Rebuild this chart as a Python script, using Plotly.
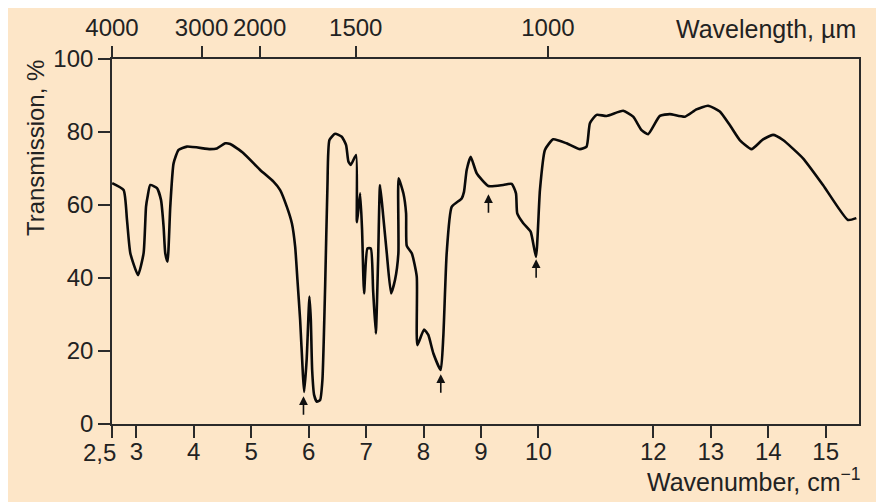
import plotly.graph_objects as go

# ---- data (wavelength axis in µm, transmission in %) ----
wl = [2.58, 2.779, 2.838, 2.896, 3.030, 3.127, 3.169, 3.197, 3.243, 3.360,
      3.430, 3.475, 3.504, 3.544, 3.591, 3.649, 3.736, 3.882, 4.287, 4.403,
      4.548, 4.635, 4.866, 5.157, 5.388, 5.504, 5.621, 5.708, 5.765, 5.805,
      5.852, 5.899, 5.922, 5.965, 6.014, 6.038, 6.061, 6.096, 6.143, 6.200,
      6.240, 6.287, 6.327, 6.362, 6.461, 6.577, 6.652, 6.692, 6.734, 6.826,
      6.838, 6.843, 6.896, 6.930, 6.965, 7.023, 7.082, 7.122, 7.169, 7.209,
      7.243, 7.296, 7.360, 7.435, 7.504, 7.562, 7.566, 7.649, 7.696, 7.708,
      7.795, 7.882, 7.892, 8.009, 8.083, 8.170, 8.299, 8.344, 8.403, 8.490,
      8.664, 8.704, 8.751, 8.821, 8.925, 9.127, 9.388, 9.534, 9.609, 9.631,
      9.736, 9.864, 9.957, 10.026, 10.113, 10.257, 10.490, 10.722, 10.838, 10.896,
      11.012, 11.186, 11.475, 11.649, 11.795, 11.910, 12.113, 12.287, 12.548, 12.751,
      12.953, 13.157, 13.330, 13.504, 13.708, 13.910, 14.083, 14.257, 14.605, 14.953,
      15.388, 15.534]
trans = [66.0, 64.1, 55.9, 46.8, 40.8, 46.8, 59.5, 62.3, 65.5, 64.6,
         61.4, 54.1, 46.8, 44.5, 59.5, 71.4, 75.1, 76.0, 75.3, 75.5,
         76.9, 76.7, 74.2, 69.6, 66.4, 64.1, 59.5, 55.0, 48.6, 39.5,
         28.5, 13.9, 8.8, 17.5, 34.9, 28.5, 14.8, 7.9, 6.1, 6.6,
         12.1, 37.6, 65.0, 77.8, 79.5, 78.7, 76.4, 71.9, 71.0, 73.7,
         55.9, 55.3, 63.2, 53.2, 35.8, 48.1, 48.1, 36.7, 24.8, 44.9,
         65.5, 57.3, 46.8, 35.8, 39.5, 46.8, 67.3, 63.2, 57.7, 48.8,
         46.8, 40.4, 21.6, 25.9, 24.4, 19.4, 14.8, 23.9, 46.8, 59.5,
         61.8, 63.6, 69.6, 73.2, 68.7, 65.2, 65.5, 65.8, 63.2, 57.7,
         55.0, 52.7, 45.8, 64.1, 75.1, 78.0, 76.9, 75.3, 76.0, 82.4,
         84.7, 84.4, 85.8, 84.2, 80.5, 79.4, 84.4, 84.9, 84.2, 86.2,
         87.2, 85.6, 81.9, 77.8, 75.3, 78.0, 79.2, 77.8, 72.8, 65.5,
         55.9, 56.4]

# marked bands (arrows)
arrow_wl = [5.91, 8.30, 9.13, 9.96]
arrow_t = [7.9, 13.9, 63.2, 45.4]

bottom_tick_vals = [2.577, 3, 4, 5, 6, 7, 8, 9, 10, 12, 13, 14, 15]
bottom_tick_text = ["2,5", "3", "4", "5", "6", "7", "8", "9", "10", "12", "13", "14", "15"]
top_tick_vals = [2.577, 4.136, 5.146, 6.82, 10.165]
top_tick_text = ["4000", "3000", "2000", "1500", "1000"]
y_tick_vals = [0, 20, 40, 60, 80, 100]

X_RANGE = [2.577, 15.58]
FONT = "Liberation Sans, Arial, sans-serif"
TXT = "#222222"
AX = "#2a2a2a"
BG = "#FDE6C8"
TICK_SIZE = 24
TITLE_SIZE = 24

# the first bottom label sits left of its tick in the reference: draw it separately
bottom_tick_disp = [""] + bottom_tick_text[1:]

fig = go.Figure()
fig.add_trace(go.Scatter(x=wl, y=trans, mode="lines",
                         line=dict(color="#0a0a0a", width=2.6, shape="spline", smoothing=0.5),
                         hoverinfo="skip", showlegend=False))
# invisible trace for the top axis
fig.add_trace(go.Scatter(x=X_RANGE, y=[0, 0], xaxis="x2", mode="lines",
                         line=dict(width=0), opacity=0, hoverinfo="skip", showlegend=False))

for ax_, ay_ in zip(arrow_wl, arrow_t):
    fig.add_annotation(x=ax_, y=ay_, ax=0, ay=21, xref="x", yref="y", text="",
                       showarrow=True, arrowhead=2, arrowsize=1.1, arrowwidth=1.6,
                       arrowcolor="#111111", standoff=1)

fig.update_layout(
    width=870, height=494,
    margin=dict(l=104, r=19, t=51, b=78, autoexpand=False),
    paper_bgcolor=BG, plot_bgcolor=BG,
    font=dict(family=FONT, size=TITLE_SIZE, color=TXT),
    xaxis=dict(range=X_RANGE, tickmode="array", tickvals=bottom_tick_vals, ticktext=bottom_tick_disp,
               ticks="outside", ticklen=12, tickwidth=1.5, tickcolor=AX, automargin=False, tickangle=0,
               ticklabelstandoff=-7,
               showline=True, linecolor=AX, linewidth=1.6, mirror=True,
               showgrid=False, zeroline=False, tickfont=dict(size=TICK_SIZE, color=TXT)),
    xaxis2=dict(range=X_RANGE, overlaying="x", side="top", tickmode="array",
                tickvals=top_tick_vals, ticktext=top_tick_text, automargin=False, tickangle=0,
                ticks="outside", ticklen=12, tickwidth=1.5, tickcolor=AX,
                showline=False, showgrid=False, zeroline=False, tickfont=dict(size=TICK_SIZE, color=TXT)),
    yaxis=dict(range=[0, 100], tickmode="array", tickvals=y_tick_vals, automargin=False,
               ticks="outside", ticklen=12, tickwidth=1.5, tickcolor=AX,
               showline=True, linecolor=AX, linewidth=1.6, mirror=True,
               showgrid=False, zeroline=False, tickfont=dict(size=TICK_SIZE, color=TXT)),
)

fig.add_annotation(text=bottom_tick_text[0], xref="x", yref="paper", x=bottom_tick_vals[0],
                   y=-0.077, xanchor="right", yanchor="middle", xshift=6, showarrow=False,
                   font=dict(size=TICK_SIZE, color=TXT))
fig.add_annotation(text="Transmission, %", xref="paper", yref="paper", x=-0.103, y=0.756,
                   xanchor="center", yanchor="middle", textangle=-90, showarrow=False,
                   font=dict(size=TITLE_SIZE, color=TXT))
fig.add_annotation(text="Wavelength, µm", xref="paper", yref="paper", x=0.9987, y=1.082,
                   xanchor="right", yanchor="middle", showarrow=False,
                   font=dict(size=25, color=TXT))
fig.add_annotation(text="Wavenumber, cm<sup>−1</sup>", xref="paper", yref="paper", x=1.005, y=-0.153,
                   xanchor="right", yanchor="middle", showarrow=False,
                   font=dict(size=25, color=TXT))

fig.write_html("out.html")
